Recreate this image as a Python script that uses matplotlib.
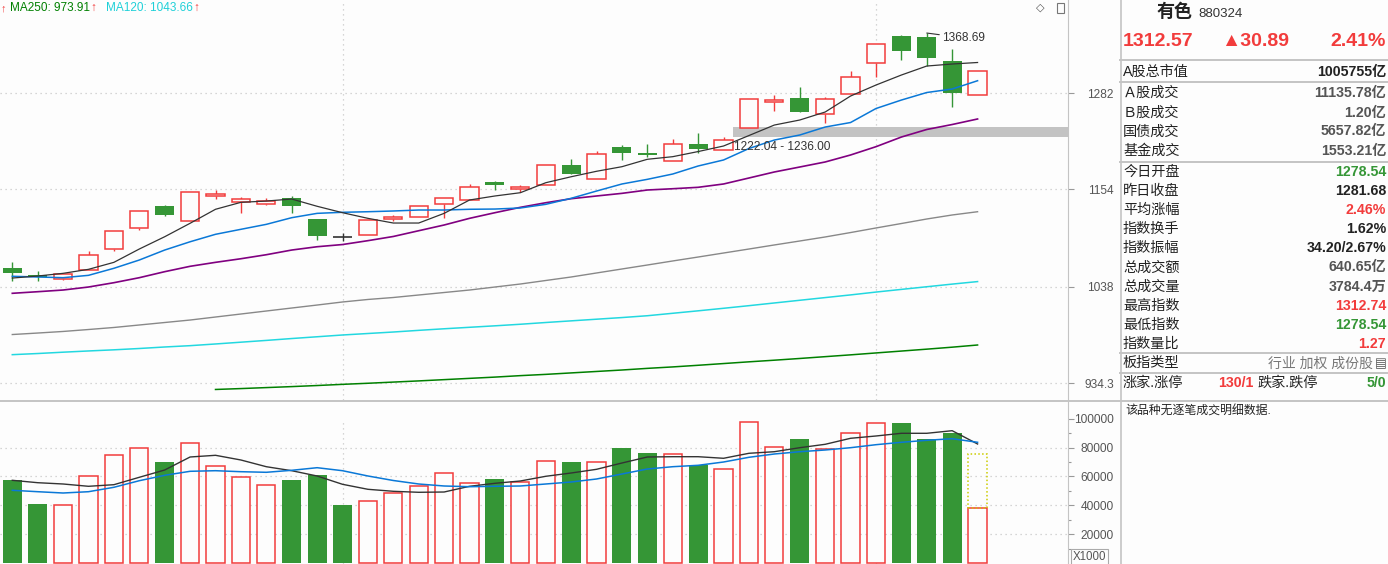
import numpy as np
import matplotlib.pyplot as plt
from matplotlib.lines import Line2D
from matplotlib.patches import Rectangle
from matplotlib.ticker import FixedLocator, NullLocator, NullFormatter

plt.rcParams['font.family'] = ['Liberation Sans', 'Noto Sans CJK SC', 'DejaVu Sans']

# ---- daily candles (index level) ----
opens = [1059.2, 1051.2, 1046.9, 1056.6, 1081.0, 1106.1, 1133.3, 1114.6, 1146.1, 1137.9,
         1135.4, 1143.3, 1117.4, 1095.3, 1097.7, 1117.0, 1119.5, 1135.4, 1140.4, 1163.4,
         1154.9, 1159.2, 1185.2, 1166.8, 1208.7, 1201.2, 1190.0, 1212.6, 1204.7, 1234.4,
         1269.9, 1275.0, 1252.6, 1280.6, 1325.1, 1364.2, 1362.7, 1327.5, 1278.54]
closes = [1053.5, 1048.5, 1052.7, 1074.0, 1102.5, 1126.8, 1122.6, 1150.4, 1148.3, 1141.6,
          1139.2, 1133.7, 1097.2, 1095.3, 1115.8, 1120.2, 1133.0, 1142.9, 1156.7, 1160.0,
          1157.1, 1184.8, 1174.0, 1199.1, 1201.2, 1198.6, 1212.6, 1206.4, 1217.5, 1273.2,
          1271.8, 1256.1, 1273.2, 1304.1, 1352.4, 1342.5, 1331.5, 1281.68, 1312.57]
highs = [1066.2, 1056.1, 1052.7, 1079.0, 1102.5, 1126.8, 1134.9, 1150.4, 1153.3, 1144.1,
         1142.9, 1146.1, 1117.4, 1100.1, 1115.8, 1122.6, 1133.0, 1142.9, 1160.9, 1165.0,
         1159.2, 1184.8, 1193.0, 1203.0, 1210.9, 1212.6, 1218.9, 1227.3, 1221.5, 1273.2,
         1278.8, 1290.4, 1276.4, 1313.1, 1352.4, 1366.2, 1368.69, 1344.6, 1312.74]
lows = [1044.3, 1044.6, 1045.8, 1056.6, 1079.4, 1104.4, 1121.4, 1114.6, 1142.4, 1125.1,
        1134.6, 1125.1, 1092.1, 1090.5, 1097.7, 1115.3, 1119.5, 1118.2, 1140.4, 1152.9,
        1150.4, 1159.2, 1174.0, 1166.8, 1192.0, 1195.6, 1190.0, 1201.2, 1204.7, 1234.4,
        1257.5, 1256.1, 1241.1, 1280.6, 1304.6, 1329.0, 1320.3, 1263.0, 1278.54]

# ---- moving averages of the index ----
ma5 = [1047.7, 1050.0, 1053.1, 1057.7, 1065.8, 1081.4, 1096.0, 1112.2, 1129.3, 1137.9,
       1139.5, 1142.0, 1133.0, 1125.1, 1118.2, 1112.5, 1112.5, 1124.3, 1140.8, 1145.8,
       1149.9, 1162.5, 1170.1, 1177.1, 1183.0, 1192.6, 1196.0, 1202.7, 1210.0, 1223.9,
       1238.0, 1244.8, 1255.7, 1277.8, 1293.2, 1307.4, 1320.3, 1323.2, 1325.4]
ma10 = [1049.7, 1048.9, 1048.1, 1050.8, 1058.9, 1068.5, 1080.2, 1090.0, 1098.9, 1104.9,
        1110.9, 1119.0, 1124.3, 1125.6, 1126.3, 1127.2, 1128.4, 1128.4, 1129.3, 1129.6,
        1130.9, 1135.4, 1142.9, 1152.0, 1160.9, 1166.8, 1173.6, 1183.9, 1191.7, 1206.7,
        1217.9, 1224.6, 1235.3, 1241.4, 1260.5, 1272.2, 1282.7, 1287.6, 1299.3]
ma20 = [1030.4, 1032.2, 1034.1, 1037.5, 1042.4, 1048.1, 1055.0, 1061.2, 1065.8, 1070.0,
        1074.7, 1080.2, 1084.1, 1086.7, 1091.3, 1096.3, 1103.2, 1110.1, 1118.2, 1125.1,
        1131.7, 1137.4, 1142.4, 1145.8, 1149.1, 1153.3, 1154.9, 1156.7, 1160.9, 1168.5,
        1176.2, 1182.6, 1189.1, 1198.2, 1209.1, 1221.9, 1232.0, 1238.7, 1246.2]
ma60 = [985.1, 986.7, 988.4, 990.5, 992.7, 995.4, 998.1, 1000.8, 1004.1, 1007.4,
        1010.7, 1014.0, 1017.3, 1020.7, 1023.5, 1025.7, 1028.5, 1031.3, 1034.1, 1037.5,
        1040.9, 1044.9, 1048.9, 1053.5, 1058.1, 1062.7, 1067.4, 1072.0, 1076.7, 1081.4,
        1086.2, 1090.9, 1095.7, 1101.0, 1106.5, 1111.9, 1117.4, 1122.3, 1126.3]
ma120 = [963.7, 964.9, 966.3, 967.6, 968.8, 970.2, 971.8, 973.2, 975.0, 976.9,
         978.8, 980.8, 982.7, 984.6, 986.2, 987.8, 989.6, 991.3, 992.9, 994.5,
         996.2, 998.1, 999.9, 1001.7, 1003.5, 1005.5, 1008.2, 1010.9, 1013.7, 1016.6,
         1019.6, 1022.6, 1025.6, 1028.6, 1031.8, 1034.8, 1037.8, 1040.8, 1043.66]
ma250_start = 8
ma250 = [927.8, 928.7, 929.7, 930.7, 931.8, 933.0, 934.1, 935.3, 936.5, 937.8,
         939.1, 940.4, 941.9, 943.2, 944.7, 946.2, 947.7, 949.4, 950.9, 952.6,
         954.4, 956.2, 957.9, 959.7, 961.6, 963.5, 965.5, 967.5, 969.5, 971.6, 973.91]

# ---- volume (x1000) ----
volumes = [57400, 41000, 40100, 60100, 74700, 79500, 70000, 83000, 67100, 59500,
           53900, 57600, 61000, 40300, 42800, 48400, 53200, 62200, 55300, 58300,
           56000, 70500, 70000, 69800, 79700, 76300, 75400, 67800, 65000, 97500,
           80200, 86000, 79000, 89900, 96800, 97000, 86000, 90100, 38000]
vol_forecast = 75360
vol_ma5 = [57370, 55710, 54810, 53220, 54330, 59450, 64500, 73500, 74670, 71420,
           66780, 64010, 60350, 54600, 51140, 49760, 49070, 49270, 53220, 55290,
           56890, 60140, 62420, 64980, 69340, 73500, 73700, 73700, 72600, 76060,
           77160, 79930, 82280, 86440, 88030, 89900, 89900, 91700, 82490]
vol_ma10 = [50450, 49480, 48580, 49480, 52530, 57090, 60830, 63600, 64010, 63320,
            62910, 64290, 66090, 64010, 60350, 57230, 54810, 53430, 52940, 53220,
            53430, 54810, 56190, 58270, 61730, 65190, 66780, 67750, 70030, 73290,
            75570, 77160, 78340, 79930, 82010, 83670, 85050, 86160, 83670]

price_ticks = [934.3, 1038, 1154, 1282]
vol_ticks = [20000, 40000, 60000, 80000, 100000]
vol_grid = [20000, 40000, 60000, 80000]
month_starts = [13, 34]
zone_low, zone_high = 1222.04, 1236.00
zone_from = 28
high_idx = 36

info_labels = ['A股总市值', 'Ａ股成交', 'Ｂ股成交', '国债成交', '基金成交', '今日开盘', '昨日收盘',
               '平均涨幅', '指数换手', '指数振幅', '总成交额', '总成交量', '最高指数', '最低指数', '指数量比']
info_values = ['1005755亿', '11135.78亿', '1.20亿', '5657.82亿', '1553.21亿', '1278.54', '1281.68',
               '2.46%', '1.62%', '34.20/2.67%', '640.65亿', '3784.4万', '1312.74', '1278.54', '1.27']

RED = '#f23c3c'
GREEN = '#359636'
DARK = '#222222'
GREY = '#555555'
LINE = '#c4c4c4'
info_colors = [DARK, GREY, GREY, GREY, GREY, GREEN, DARK, RED, DARK, DARK, GREY, GREY, RED, GREEN, RED]
info_rows = [72, 92.7, 112.5, 131.5, 150.5, 171.7, 190.7, 210, 229.3, 248.3, 267.3, 286.7, 305.7, 325, 344]

W, H = 1388, 564


def fx(px):
    return px / W


def fy(py):
    return 1 - py / H


fig = plt.figure(figsize=(W / 100, H / 100), dpi=100)
fig.patch.set_facecolor('#fdfdfd')

ax = fig.add_axes([0, fy(400), fx(1068), 400 / H])
axv = fig.add_axes([0, 0, fx(1068), 162 / H])
for a in (ax, axv):
    a.set_facecolor('#fdfdfd')
    for s in ('left', 'top', 'bottom'):
        a.spines[s].set_visible(False)
    a.spines['right'].set_color(LINE)
    a.set_xlim(-0.484, 41.56)
    a.xaxis.set_major_locator(NullLocator())
    a.yaxis.tick_right()

x = np.arange(len(closes))
body_w = 0.72

# ---- price panel ----
ax.set_yscale('log')
ax.set_ylim(917.2, 1418.9)
ax.yaxis.set_major_locator(FixedLocator(price_ticks))
ax.yaxis.set_minor_locator(NullLocator())
ax.yaxis.set_minor_formatter(NullFormatter())
ax.set_yticklabels([f'{v:g}' for v in price_ticks])
for v in price_ticks:
    ax.axhline(v, color='#c8c8c8', lw=0.9, ls=(0, (1, 3)), zorder=0)
for m in month_starts:
    ax.axvline(m, color='#c8c8c8', lw=0.9, ls=(0, (1, 3)), zorder=0)

ax.add_patch(Rectangle((zone_from + body_w / 2, zone_low), 41.56 - zone_from - body_w / 2,
                       zone_high - zone_low, facecolor='#c3c3c3', edgecolor='none', zorder=1))
ax.annotate(f'{zone_low:.2f} - {zone_high:.2f}', xy=(zone_from + body_w / 2, zone_low),
            xytext=(1, -3), textcoords='offset points', va='top', ha='left',
            fontsize=8.6, color='#333333', zorder=5)

for i in x:
    o, c, h, l = opens[i], closes[i], highs[i], lows[i]
    if c > o:
        if h > c:
            ax.vlines(i, c, h, color=RED, lw=1.0, zorder=3)
        if l < o:
            ax.vlines(i, l, o, color=RED, lw=1.0, zorder=3)
        ax.bar(i, c - o, bottom=o, width=body_w, facecolor='#fdfdfd', edgecolor=RED, lw=1.1, zorder=3)
    elif c < o:
        ax.vlines(i, l, h, color=GREEN, lw=1.0, zorder=3)
        ax.bar(i, o - c, bottom=c, width=body_w + 0.03, color=GREEN, lw=0, zorder=3)
    else:
        ax.vlines(i, l, h, color='#333333', lw=1.0, zorder=3)
        ax.hlines(o, i - body_w / 2, i + body_w / 2, color='#333333', lw=1.2, zorder=3)

ax.plot(x, ma60, color='#888888', lw=1.0, zorder=4)
ax.plot(x, ma120, color='#22d8e0', lw=1.1, zorder=4)
ax.plot(x[ma250_start:], ma250, color='#008000', lw=1.1, zorder=4)
ax.plot(x, ma20, color='#800080', lw=1.2, zorder=4)
ax.plot(x, ma10, color='#0a78d7', lw=1.1, zorder=4)
ax.plot(x, ma5, color='#333333', lw=0.9, zorder=4)

ax.annotate(f'{highs[high_idx]:.2f}', xy=(high_idx, highs[high_idx]), xytext=(11, -3.5),
            textcoords='offset points', va='center', ha='left', fontsize=8.6, color='#333333',
            arrowprops=dict(arrowstyle='-', color='#333333', lw=0.8, shrinkA=0, shrinkB=0), zorder=5)

# ---- volume panel ----
axv.set_ylim(-554, 111557)
axv.yaxis.set_major_locator(FixedLocator(vol_ticks))
axv.yaxis.set_minor_locator(FixedLocator([10000, 30000, 50000, 70000, 90000]))
axv.set_yticklabels([str(v) for v in vol_ticks])
for v in vol_grid:
    axv.axhline(v, color='#c8c8c8', lw=0.9, ls=(0, (1, 3)), zorder=0)
for m in month_starts:
    axv.axvline(m, ymax=0.88, color='#c8c8c8', lw=0.9, ls=(0, (1, 3)), zorder=0)

for i in x:
    if closes[i] > opens[i]:
        axv.bar(i, volumes[i], width=body_w, facecolor='#fdfdfd', edgecolor=RED, lw=1.1, zorder=2)
    else:
        axv.bar(i, volumes[i], width=body_w + 0.03, color=GREEN, lw=0, zorder=2)
last = x[-1]
axv.bar(last, vol_forecast - volumes[-1], bottom=volumes[-1], width=body_w, facecolor='none',
        edgecolor='#cccc00', lw=1.1, ls=(0, (1, 1.5)), zorder=2)
axv.plot(x, vol_ma5, color='#333333', lw=1.0, zorder=4)
axv.plot(x, vol_ma10, color='#0a78d7', lw=1.1, zorder=4)

for a in (ax, axv):
    a.tick_params(axis='y', which='major', direction='out', length=4, width=0.8, color='#999999',
                  labelcolor=GREY, labelsize=8.6, pad=29)
    a.tick_params(axis='y', which='minor', direction='out', length=2.5, width=0.8, color='#999999')
    for t in a.get_yticklabels():
        t.set_ha('right')

# ---- frame lines ----
def hline(py, x0, x1):
    fig.add_artist(Line2D([fx(x0), fx(x1)], [fy(py), fy(py)], color=LINE, lw=1.4))


hline(401.3, 0, W)
for py in (60, 81.7, 161.7, 353.3, 372.7):
    hline(py, 1120, W)
fig.add_artist(Line2D([fx(1120.5), fx(1120.5)], [0, 1], color=LINE, lw=1.2))

# ---- top legend ----
fig.text(fx(0.5), fy(8), '↑', color=RED, fontsize=8, va='center')
fig.text(fx(10), fy(8), f'MA250: {ma250[-1]:.2f}', color='#008000', fontsize=8.5, va='center')
fig.text(fx(90), fy(8), '↑', color=RED, fontsize=8.5, va='center')
fig.text(fx(106), fy(8), f'MA120: {ma120[-1]:.2f}', color='#1fd0d8', fontsize=8.5, va='center')
fig.text(fx(193), fy(8), '↑', color=RED, fontsize=8.5, va='center')
fig.text(fx(1036), fy(8), '◇', color='#555555', fontsize=8, va='center', family='DejaVu Sans')
fig.add_artist(Rectangle((fx(1056.5), fy(12.5)), fx(7), 10 / H, facecolor='#fdfdfd',
                         edgecolor='#777777', lw=0.8))
fig.text(fx(1073), fy(557), 'X1000', color=GREY, fontsize=8.3, va='center', ha='left',
         bbox=dict(boxstyle='square,pad=0.15', facecolor='#fdfdfd', edgecolor='#aaaaaa', lw=0.8))

# ---- right info panel ----
fig.text(fx(1157), fy(12), '有色', color=DARK, fontsize=13, fontweight='bold', va='center')
fig.text(fx(1198), fy(14), '880324', color='#333333', fontsize=9.5, va='center')
fig.text(fx(1123), fy(41), f'{closes[-1]:.2f}', color=RED, fontsize=14, fontweight='bold', va='center')
fig.text(fx(1221), fy(41), '▲30.89', color=RED, fontsize=14, fontweight='bold', va='center')
fig.text(fx(1386), fy(41), '2.41%', color=RED, fontsize=14, fontweight='bold', va='center', ha='right')

for lab, val, col, py in zip(info_labels, info_values, info_colors, info_rows):
    fig.text(fx(1123), fy(py), lab, color=DARK, fontsize=10.2, va='center')
    fig.text(fx(1386), fy(py), val, color=col, fontsize=10.2, fontweight='bold', va='center', ha='right')

fig.text(fx(1123), fy(363.3), '板指类型', color=DARK, fontsize=10.2, va='center')
fig.text(fx(1373), fy(363.3), '行业 加权 成份股', color='#777777', fontsize=10, va='center', ha='right')
fig.text(fx(1375), fy(363.3), '▤', color='#555555', fontsize=9, va='center', family='DejaVu Sans')
fig.text(fx(1123), fy(383.3), '涨家.涨停', color=DARK, fontsize=10.2, va='center')
fig.text(fx(1218), fy(383.3), '130/1', color=RED, fontsize=10.2, fontweight='bold', va='center')
fig.text(fx(1258), fy(383.3), '跌家.跌停', color=DARK, fontsize=10.2, va='center')
fig.text(fx(1386), fy(383.3), '5/0', color=GREEN, fontsize=10.2, fontweight='bold', va='center', ha='right')
fig.text(fx(1125), fy(411.7), '该品种无逐笔成交明细数据.', color=DARK, fontsize=8.6, va='center')

fig.savefig('out.png', dpi=100, facecolor=fig.get_facecolor())
